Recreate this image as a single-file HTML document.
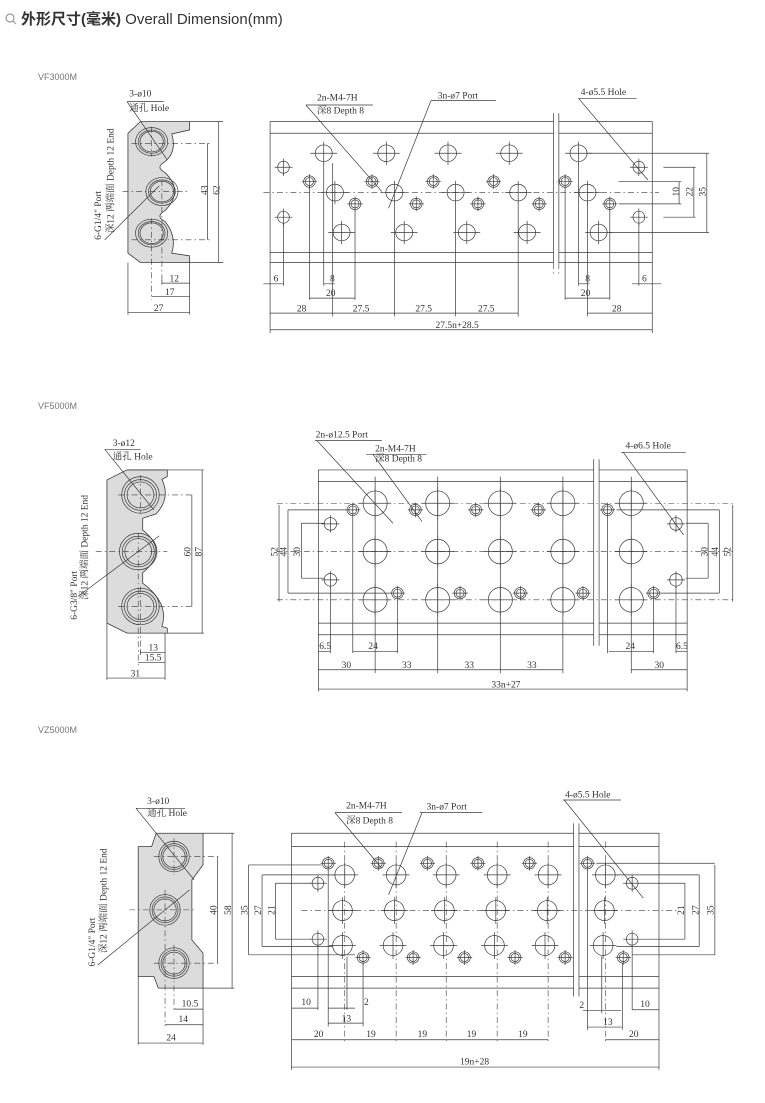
<!DOCTYPE html>
<html><head><meta charset="utf-8"><style>
html,body{margin:0;padding:0;background:#fff;}
svg{display:block;}
.l{fill:none;stroke:#3a3a3a;stroke-width:0.7;vector-effect:non-scaling-stroke;}
.d{fill:none;stroke:#3a3a3a;stroke-width:0.6;stroke-dasharray:6 3 1.5 3;vector-effect:non-scaling-stroke;}
.g{fill:#dcdcdc;stroke:#3a3a3a;stroke-width:0.8;vector-effect:non-scaling-stroke;}
text{font-family:"Liberation Serif","Noto Serif CJK SC",serif;font-size:9.5px;fill:#333;}
.lab{font-family:"Liberation Sans",sans-serif;font-size:9px;fill:#777;}
</style></head><body>
<svg width="765" height="1103" viewBox="0 0 765 1103" xmlns="http://www.w3.org/2000/svg">
<defs>
<g id="p1"><ellipse class="l" cx="0" cy="0" rx="19" ry="25"/><path class="l" d="M-30,0H30M0,-35V35"/></g>
<g id="m1"><ellipse class="l" cx="0" cy="0" rx="13" ry="18"/><path class="l" d="M-20,0H20M0,-26V26"/></g>
<g id="t1"><ellipse class="l" cx="0" cy="0" rx="13" ry="17"/><ellipse class="l" cx="0" cy="0" rx="9" ry="12"/><path class="l" d="M-17,0H17M0,-22V22"/></g>
<g id="p2"><ellipse class="l" cx="0" cy="0" rx="27" ry="37"/><path class="l" d="M-36,0H36M0,-48V48"/></g>
<g id="m2"><ellipse class="l" cx="0" cy="0" rx="14" ry="19"/><path class="l" d="M-20,0H20M0,-26V26"/></g>
<g id="p3"><ellipse class="l" cx="0" cy="0" rx="22" ry="30"/><path class="l" d="M-30,0H30M0,-40V40"/></g>
</defs>

<!-- header -->
<circle cx="10" cy="18" r="4" fill="none" stroke="#999" stroke-width="1.2"/>
<line x1="13" y1="21" x2="16" y2="24" stroke="#999" stroke-width="1.2"/>
<text x="21" y="24" style="font-family:'Liberation Sans','Noto Sans CJK SC',sans-serif;font-size:15px;fill:#333"><tspan font-weight="bold">外形尺寸(毫米)</tspan> Overall Dimension(mm)</text>

<text class="lab" x="38" y="80">VF3000M</text>
<text class="lab" x="38" y="409">VF5000M</text>
<text class="lab" x="38" y="733">VZ5000M</text>

<!-- ============ SECTION 1 ============ -->
<g transform="translate(60,80) scale(0.447,0.333)">
<path class="g" d="M152,160 L180,125 L290,125 L290,150 L250,162 Q262,215 235,245 Q212,262 235,278 Q278,335 235,392 Q212,410 235,425 Q262,470 250,520 L290,528 L290,548 L180,548 L152,520 Z"/>
<ellipse class="l" cx="205" cy="185" rx="36" ry="42"/><ellipse class="l" cx="205" cy="185" rx="30" ry="35"/><ellipse class="l" cx="205" cy="185" rx="26" ry="31"/>
<ellipse class="l" cx="228" cy="335" rx="36" ry="42"/><ellipse class="l" cx="228" cy="335" rx="30" ry="35"/><ellipse class="l" cx="228" cy="335" rx="26" ry="31"/>
<ellipse class="l" cx="205" cy="460" rx="36" ry="42"/><ellipse class="l" cx="205" cy="460" rx="30" ry="35"/><ellipse class="l" cx="205" cy="460" rx="26" ry="31"/>
<path class="d" d="M160,190H335M140,335H290M160,480H335M228,300V610M205,140V230M205,415V660"/>
<path class="l" d="M290,125H365M290,548H365M330,190V480M355,125V548M290,548V705M152,548V705M228,600V615M228,610H290M205,650H290M152,698H290"/>
<path class="l" d="M150,65H232M150,65L240,240M100,480L222,318"/>
<!-- main block -->
<rect class="l" x="470" y="125" width="855" height="423"/>
<path class="l" d="M470,160H1325M470,518H1325"/>
<rect x="1104" y="100" width="12" height="490" fill="#fff"/>
<path class="l" d="M1104,100V550M1116,100V550"/>
<path class="d" d="M1104,550V590M1116,550V590M455,338H1340"/>
<use href="#p1" x="590" y="220"/><use href="#p1" x="730" y="220"/><use href="#p1" x="868" y="220"/><use href="#p1" x="1005" y="220"/><use href="#p1" x="1160" y="220"/>
<use href="#p1" x="615" y="338"/><use href="#p1" x="748" y="338"/><use href="#p1" x="885" y="338"/><use href="#p1" x="1025" y="338"/><use href="#p1" x="1180" y="338"/>
<use href="#p1" x="630" y="458"/><use href="#p1" x="770" y="458"/><use href="#p1" x="910" y="458"/><use href="#p1" x="1045" y="458"/><use href="#p1" x="1205" y="458"/>
<use href="#m1" x="500" y="262"/><use href="#m1" x="500" y="412"/><use href="#m1" x="1295" y="262"/><use href="#m1" x="1295" y="412"/>
<use href="#t1" x="558" y="305"/><use href="#t1" x="698" y="305"/><use href="#t1" x="835" y="305"/><use href="#t1" x="970" y="305"/><use href="#t1" x="1130" y="305"/>
<use href="#t1" x="660" y="372"/><use href="#t1" x="797" y="372"/><use href="#t1" x="935" y="372"/><use href="#t1" x="1072" y="372"/><use href="#t1" x="1230" y="372"/>
<path class="l" d="M500,430V618M590,250V618M610,250V710M558,320V660M660,390V660M748,370V710M885,370V710M1025,370V710M1160,250V618M1180,370V710M1130,320V660M1230,390V660M1295,430V618M470,548V760M1325,548V760"/>
<path class="l" d="M1250,305H1390M1350,262H1422M1350,412H1422M1250,372H1390M1180,220H1452M1230,458H1452M1385,305V372M1418,262V412M1447,220V458"/>
<path class="l" d="M455,612H500M590,612H615M558,655H660M470,700H610M610,700H1025M470,750H1325M1160,612H1185M1130,655H1230M1280,612H1345M1180,700H1325"/>
<path class="l" d="M550,75H700M550,75L720,335M830,62H975M830,62L735,385M1160,55H1290M1160,55L1315,300"/>
<text transform="translate(155,50) scale(2.237,3)">3-ø10</text>
<text transform="translate(155,93) scale(2.237,3)">通孔 Hole</text>
<text transform="translate(330,345) scale(2.237,3) rotate(-90)">43</text>
<text transform="translate(357,345) scale(2.237,3) rotate(-90)">62</text>
<text transform="translate(92,480) scale(2.237,3) rotate(-90)">6-G1/4"  Port</text>
<text transform="translate(120,460) scale(2.237,3) rotate(-90)">深12 两端面 Depth 12  End</text>
<text transform="translate(245,605) scale(2.237,3)">12</text>
<text transform="translate(235,645) scale(2.237,3)">17</text>
<text transform="translate(210,693) scale(2.237,3)">27</text>
<text transform="translate(575,62) scale(2.237,3)">2n-M4-7H</text>
<text transform="translate(575,100) scale(2.237,3)">深8 Depth 8</text>
<text transform="translate(845,55) scale(2.237,3)">3n-ø7 Port</text>
<text transform="translate(1165,45) scale(2.237,3)">4-ø5.5 Hole</text>
<text transform="translate(1385,350) scale(2.237,3) rotate(-90)">10</text>
<text transform="translate(1415,350) scale(2.237,3) rotate(-90)">22</text>
<text transform="translate(1444,350) scale(2.237,3) rotate(-90)">35</text>
<text transform="translate(478,605) scale(2.237,3)">6</text>
<text transform="translate(604,605) scale(2.237,3)">8</text>
<text transform="translate(595,648) scale(2.237,3)">20</text>
<text transform="translate(530,695) scale(2.237,3)">28</text>
<text transform="translate(655,695) scale(2.237,3)">27.5</text>
<text transform="translate(795,695) scale(2.237,3)">27.5</text>
<text transform="translate(935,695) scale(2.237,3)">27.5</text>
<text transform="translate(840,745) scale(2.237,3)">27.5n+28.5</text>
<text transform="translate(1175,605) scale(2.237,3)">8</text>
<text transform="translate(1165,648) scale(2.237,3)">20</text>
<text transform="translate(1302,605) scale(2.237,3)">6</text>
<text transform="translate(1235,695) scale(2.237,3)">28</text>
</g>

<!-- ============ SECTION 2 ============ -->
<g transform="translate(60,420) scale(0.447,0.333)">
<path class="g" d="M105,180 L150,150 L240,150 L240,170 L228,178 Q248,235 215,282 L185,295 L185,330 Q245,395 185,458 L185,490 Q245,550 228,620 L240,625 L240,640 L150,640 L105,610 Z"/>
<ellipse class="l" cx="180" cy="225" rx="42" ry="55"/><ellipse class="l" cx="180" cy="225" rx="36" ry="46"/><ellipse class="l" cx="180" cy="225" rx="30" ry="39"/>
<ellipse class="l" cx="175" cy="395" rx="42" ry="55"/><ellipse class="l" cx="175" cy="395" rx="36" ry="46"/><ellipse class="l" cx="175" cy="395" rx="30" ry="39"/>
<ellipse class="l" cx="180" cy="560" rx="42" ry="55"/><ellipse class="l" cx="180" cy="560" rx="36" ry="46"/><ellipse class="l" cx="180" cy="560" rx="30" ry="39"/>
<path class="d" d="M130,225H300M80,395H240M130,560H300M180,165V285M175,340V740M180,500V705"/>
<path class="l" d="M240,150H322M240,640H322M295,225V560M318,150V640M105,610V780M235,640V780M180,690V705M180,698H235M175,728H235M105,775H235"/>
<path class="l" d="M100,88H180M100,88L210,270M40,530L222,348"/>
<rect class="l" x="578" y="150" width="825" height="495"/>
<path class="l" d="M578,185H1403M578,610H1403"/>
<rect x="1194" y="118" width="12" height="560" fill="#fff"/>
<path class="l" d="M1194,118V678M1206,118V678"/>
<path class="d" d="M485,250H1505M485,395H1505M485,540H1505"/>
<use href="#p2" x="705" y="250"/><use href="#p2" x="845" y="250"/><use href="#p2" x="985" y="250"/><use href="#p2" x="1125" y="250"/><use href="#p2" x="1278" y="250"/>
<use href="#p2" x="705" y="395"/><use href="#p2" x="845" y="395"/><use href="#p2" x="985" y="395"/><use href="#p2" x="1125" y="395"/><use href="#p2" x="1278" y="395"/>
<use href="#p2" x="705" y="540"/><use href="#p2" x="845" y="540"/><use href="#p2" x="985" y="540"/><use href="#p2" x="1125" y="540"/><use href="#p2" x="1278" y="540"/>
<use href="#m2" x="605" y="312"/><use href="#m2" x="605" y="480"/><use href="#m2" x="1378" y="312"/><use href="#m2" x="1378" y="480"/>
<use href="#t1" x="655" y="270"/><use href="#t1" x="795" y="270"/><use href="#t1" x="930" y="270"/><use href="#t1" x="1070" y="270"/><use href="#t1" x="1225" y="270"/>
<use href="#t1" x="755" y="520"/><use href="#t1" x="895" y="520"/><use href="#t1" x="1030" y="520"/><use href="#t1" x="1170" y="520"/><use href="#t1" x="1328" y="520"/>
<path class="l" d="M705,170V760M845,170V760M985,170V760M1125,170V760M1278,170V760M655,290V700M755,540V700M1225,290V700M1328,540V700M605,500V700M1378,500V700M578,645V815M1403,645V815"/>
<path class="l" d="M490,255V545M510,270V520M540,310V475M1450,310V475M1475,270V520M1505,255V545M510,270H640M510,520H740M540,310H590M540,475H590M1400,310H1450M1400,475H1450M1245,270H1475M1345,520H1475"/>
<path class="l" d="M578,695H605M655,695H755M1228,695H1328M1378,695H1403M578,750H705M705,750H1125M1278,750H1403M578,808H1403"/>
<path class="l" d="M570,62H720M575,62L745,310M685,103H820M700,103L810,305M1255,97H1400M1260,97L1395,345"/>
<text transform="translate(118,78) scale(2.237,3)">3-ø12</text>
<text transform="translate(118,118) scale(2.237,3)">通孔 Hole</text>
<text transform="translate(292,410) scale(2.237,3) rotate(-90)">60</text>
<text transform="translate(316,410) scale(2.237,3) rotate(-90)">87</text>
<text transform="translate(38,600) scale(2.237,3) rotate(-90)">6-G3/8"  Port</text>
<text transform="translate(62,540) scale(2.237,3) rotate(-90)">深12 两端面 Depth 12  End</text>
<text transform="translate(198,692) scale(2.237,3)">13</text>
<text transform="translate(190,722) scale(2.237,3)">15.5</text>
<text transform="translate(158,770) scale(2.237,3)">31</text>
<text transform="translate(572,52) scale(2.237,3)">2n-ø12.5 Port</text>
<text transform="translate(705,95) scale(2.237,3)">2n-M4-7H</text>
<text transform="translate(705,125) scale(2.237,3)">深8 Depth 8</text>
<text transform="translate(1265,85) scale(2.237,3)">4-ø6.5 Hole</text>
<text transform="translate(487,410) scale(2.237,3) rotate(-90)">52</text>
<text transform="translate(507,410) scale(2.237,3) rotate(-90)">44</text>
<text transform="translate(537,410) scale(2.237,3) rotate(-90)">30</text>
<text transform="translate(1448,410) scale(2.237,3) rotate(-90)">30</text>
<text transform="translate(1472,410) scale(2.237,3) rotate(-90)">44</text>
<text transform="translate(1500,410) scale(2.237,3) rotate(-90)">52</text>
<text transform="translate(580,688) scale(2.237,3)">6.5</text>
<text transform="translate(690,688) scale(2.237,3)">24</text>
<text transform="translate(1265,688) scale(2.237,3)">24</text>
<text transform="translate(1378,688) scale(2.237,3)">6.5</text>
<text transform="translate(630,745) scale(2.237,3)">30</text>
<text transform="translate(765,745) scale(2.237,3)">33</text>
<text transform="translate(905,745) scale(2.237,3)">33</text>
<text transform="translate(1045,745) scale(2.237,3)">33</text>
<text transform="translate(1330,745) scale(2.237,3)">30</text>
<text transform="translate(965,803) scale(2.237,3)">33n+27</text>
</g>

<!-- ============ SECTION 3 ============ -->
<g transform="translate(60,780) scale(0.447,0.333)">
<path class="g" d="M175,200 L205,200 L215,160 L320,160 L320,255 L295,300 L295,480 L320,520 L320,625 L220,625 L210,590 L175,590 Z"/>
<ellipse class="l" cx="255" cy="230" rx="34" ry="46"/><ellipse class="l" cx="255" cy="230" rx="29" ry="39"/><ellipse class="l" cx="255" cy="230" rx="25" ry="33"/>
<ellipse class="l" cx="235" cy="390" rx="34" ry="46"/><ellipse class="l" cx="235" cy="390" rx="29" ry="39"/><ellipse class="l" cx="235" cy="390" rx="25" ry="33"/>
<ellipse class="l" cx="255" cy="550" rx="34" ry="46"/><ellipse class="l" cx="255" cy="550" rx="29" ry="39"/><ellipse class="l" cx="255" cy="550" rx="25" ry="33"/>
<path class="d" d="M210,230H355M155,390H300M210,550H355M255,175V285M235,330V740M255,495V695"/>
<path class="l" d="M320,160H390M320,625H390M352,230V550M385,160V625M175,590V795M320,625V795M255,688H320M235,735H320M175,790H320"/>
<path class="l" d="M170,85H280M170,85L300,300M85,555L290,330"/>
<rect class="l" x="518" y="160" width="822" height="465"/>
<path class="l" d="M518,200H1340M518,590H1340"/>
<rect x="1149" y="130" width="12" height="520" fill="#fff"/>
<path class="l" d="M1149,130V650M1161,130V650"/>
<path class="d" d="M540,392H1380"/>
<use href="#p3" x="637" y="285"/><use href="#p3" x="752" y="285"/><use href="#p3" x="864" y="285"/><use href="#p3" x="978" y="285"/><use href="#p3" x="1092" y="285"/><use href="#p3" x="1220" y="285"/>
<use href="#p3" x="632" y="392"/><use href="#p3" x="748" y="392"/><use href="#p3" x="860" y="392"/><use href="#p3" x="975" y="392"/><use href="#p3" x="1090" y="392"/><use href="#p3" x="1218" y="392"/>
<use href="#p3" x="632" y="497"/><use href="#p3" x="745" y="497"/><use href="#p3" x="858" y="497"/><use href="#p3" x="972" y="497"/><use href="#p3" x="1085" y="497"/><use href="#p3" x="1215" y="497"/>
<use href="#m1" x="577" y="310"/><use href="#m1" x="577" y="478"/><use href="#m1" x="1280" y="310"/><use href="#m1" x="1280" y="478"/>
<use href="#t1" x="600" y="250"/><use href="#t1" x="712" y="250"/><use href="#t1" x="822" y="250"/><use href="#t1" x="935" y="250"/><use href="#t1" x="1050" y="250"/><use href="#t1" x="1180" y="250"/>
<use href="#t1" x="678" y="533"/><use href="#t1" x="790" y="533"/><use href="#t1" x="905" y="533"/><use href="#t1" x="1018" y="533"/><use href="#t1" x="1130" y="533"/><use href="#t1" x="1260" y="533"/>
<path class="d" d="M637,185V790M752,185V790M864,185V790M978,185V790M1092,185V790M1220,185V790"/>
<path class="l" d="M577,495V690M600,270V740M678,550V740M642,530V690M1280,495V690M1180,270V750M1258,550V750M1212,530V700M518,625V870M1340,625V870"/>
<path class="l" d="M422,255V525M452,285V500M482,310V478M1398,310V478M1430,285V500M1465,255V525M422,255H585M422,525H660M452,285H615M452,500H610M482,310H560M482,478H560M1200,250H1465M1280,525H1465M1245,285H1430M1245,500H1430M1300,310H1398M1300,478H1398"/>
<path class="l" d="M518,685H577M600,685H660M600,730H678M518,780H637M637,780H1092M1220,780H1340M1170,692H1255M1180,742H1258M1280,690H1340M518,862H1340"/>
<path class="l" d="M615,98H765M615,98L720,265M805,98H945M810,98L735,345M1125,60H1255M1128,60L1305,355"/>
<text transform="translate(195,72) scale(2.237,3)">3-ø10</text>
<text transform="translate(195,108) scale(2.237,3)">通孔 Hole</text>
<text transform="translate(350,405) scale(2.237,3) rotate(-90)">40</text>
<text transform="translate(382,405) scale(2.237,3) rotate(-90)">58</text>
<text transform="translate(78,560) scale(2.237,3) rotate(-90)">6-G1/4"  Port</text>
<text transform="translate(104,520) scale(2.237,3) rotate(-90)">深12 两端面 Depth 12  End</text>
<text transform="translate(272,680) scale(2.237,3)">10.5</text>
<text transform="translate(265,727) scale(2.237,3)">14</text>
<text transform="translate(238,782) scale(2.237,3)">24</text>
<text transform="translate(640,86) scale(2.237,3)">2n-M4-7H</text>
<text transform="translate(640,130) scale(2.237,3)">深8 Depth 8</text>
<text transform="translate(820,88) scale(2.237,3)">3n-ø7 Port</text>
<text transform="translate(1130,52) scale(2.237,3)">4-ø5.5 Hole</text>
<text transform="translate(420,405) scale(2.237,3) rotate(-90)">35</text>
<text transform="translate(450,405) scale(2.237,3) rotate(-90)">27</text>
<text transform="translate(480,405) scale(2.237,3) rotate(-90)">21</text>
<text transform="translate(1396,405) scale(2.237,3) rotate(-90)">21</text>
<text transform="translate(1428,405) scale(2.237,3) rotate(-90)">27</text>
<text transform="translate(1462,405) scale(2.237,3) rotate(-90)">35</text>
<text transform="translate(540,675) scale(2.237,3)">10</text>
<text transform="translate(680,675) scale(2.237,3)">2</text>
<text transform="translate(630,725) scale(2.237,3)">13</text>
<text transform="translate(568,772) scale(2.237,3)">20</text>
<text transform="translate(685,772) scale(2.237,3)">19</text>
<text transform="translate(800,772) scale(2.237,3)">19</text>
<text transform="translate(910,772) scale(2.237,3)">19</text>
<text transform="translate(1025,772) scale(2.237,3)">19</text>
<text transform="translate(1162,685) scale(2.237,3)">2</text>
<text transform="translate(1215,735) scale(2.237,3)">13</text>
<text transform="translate(1298,682) scale(2.237,3)">10</text>
<text transform="translate(1273,772) scale(2.237,3)">20</text>
<text transform="translate(895,855) scale(2.237,3)">19n+28</text>
</g>
</svg>
</body></html>
